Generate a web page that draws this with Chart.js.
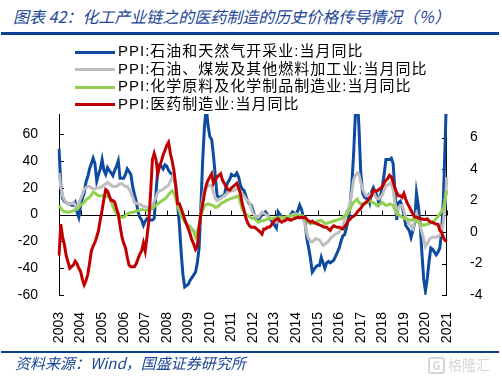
<!DOCTYPE html>
<html>
<head>
<meta charset="utf-8">
<script src="https://cdn.jsdelivr.net/npm/chart.js@4.4.0/dist/chart.umd.min.js"></script>
<style>
  body { margin: 0; background: #fff; }
  #wrap { position: relative; width: 502px; height: 379px; overflow: hidden; font-family: "Liberation Sans", "Noto Sans CJK SC", sans-serif; }
  #chart { position: absolute; left: 0; top: 0; }
  .title { position: absolute; left: 13px; top: 5px; font-size: 16px; font-style: italic; color: #1B4596; font-family: "Noto Sans CJK SC", sans-serif; white-space: nowrap; line-height: 22px; }
  .rule { position: absolute; left: 1px; width: 498px; background: #0D3F94; }
  .legend { position: absolute; left: 75px; top: 42px; font-size: 15px; color: #000; letter-spacing: 1px; }
  .legend div { height: 17.6px; line-height: 17.6px; white-space: nowrap; }
  .legend span.ln { display: inline-block; width: 40px; height: 3px; vertical-align: middle; margin-right: 3px; }
  .footer { position: absolute; left: 15px; top: 353px; font-size: 15px; font-style: italic; color: #1B4596; font-family: "Noto Sans CJK SC", sans-serif; white-space: nowrap; line-height: 20px; }
  .mark { position: absolute; left: 428px; top: 354px; font-size: 14px; color: #d6d6d6; font-family: "Noto Sans CJK SC", sans-serif; white-space: nowrap; }
  .mark b { display: inline-block; border: 2px solid #d6d6d6; border-radius: 3px; width: 13px; height: 13px; line-height: 13px; text-align: center; font-size: 11px; margin-right: 3px; }
</style>
</head>
<body>
<div id="wrap">
  <div class="title">图表 42：化工产业链之的医药制造的历史价格传导情况（％）</div>
  <div class="rule" style="top:32px;height:3px"></div>
  <canvas id="chart" width="502" height="379"></canvas>
  <div class="legend">
    <div><span class="ln" style="background:#0D4BA0"></span>PPI:石油和天然气开采业:当月同比</div>
    <div><span class="ln" style="background:#BFBFBF"></span>PPI:石油、煤炭及其他燃料加工业:当月同比</div>
    <div><span class="ln" style="background:#92D050"></span>PPI:化学原料及化学制品制造业:当月同比</div>
    <div><span class="ln" style="background:#C00000"></span>PPI:医药制造业:当月同比</div>
  </div>
  <div class="rule" style="top:351px;height:2px"></div>
  <div class="footer">资料来源：Wind，国盛证券研究所</div>
  <div class="mark"><b>G</b>格隆汇</div>
</div>
<script>
// year tick labels (one every 12 months, starting with the first point)
const yearLabels = ['2003', '2004', '2005', '2006', '2007', '2008', '2009', '2010', '2011', '2012',
  '2013', '2014', '2015', '2016', '2017', '2018', '2019', '2020', '2021'];

// monthly categories, 2003-04 .. 2021-04
const months = [];
for (let k = 0; k < 217; k++) {
  const m = 3 + k;
  months.push((2003 + Math.floor(m / 12)) + '-' + String(m % 12 + 1).padStart(2, '0'));
}

// PPI: oil & gas extraction, yoy % (left axis)
const oilGas = [
  49, 22, 12, 10, 9, 8, 8, 7, 7, 9, 2, -2,
  6, 12, 16, 24, 28, 34, 38, 42, 38, 25, 30, 34,
  41, 33, 30, 35, 33, 31, 29, 33, 36, 40, 27, 27,
  27, 30, 34, 32, 30, 21, 15, 10, 2, -2, -4, -8,
  -5, -3, -4, -4, -4, -3, 16, 34, 37, 36, 34, 37,
  36, 33, 31, 30, 28, 22, 8, -7, -28, -45, -54, -53,
  -52, -49, -47, -45, -43, -36, -25, 6, 41, 66, 80, 66,
  58, 56, 44, 29, 14, 13, 13, 14, 14, 21, 24, 26,
  30, 29, 29, 31, 28, 22, 19, 18, 14, 10, 8, 7,
  3, -1, -3, -4, -2, 0, 1, 2, 0, -2, -4, -6,
  -8, -10, 2, 0, -2, -3, -3, -2.5, -2, 0, 2, 1,
  0.5, 3, 7, 4, -2, -6, -18, -25, -33, -43, -41, -39,
  -38, -38, -32, -36, -40, -36, -35, -36, -35, -34, -31, -28,
  -25, -20, -16, -15, -10, -4, 6, 22, 45, 75, 90, 65,
  31, 16, 13, 12, 14, 9, 17, 20, 17, 14, 9, 14,
  21, 30, 41, 41, 41, 42, 38, 18, -4, 9, 10, 6,
  0, -8, -10, -12, -17, -12, -6, 16, 7, -6, -28, -48,
  -57, -48, -35, -25, -26, -28, -30, -28, -25, -13, 12, 56, 100
];

// PPI: petroleum, coal & other fuel processing, yoy % (left axis)
const petroCoal = [
  31, 20, 14, 11, 9, 8, 8, 8, 9, 7, 5, 8,
  12, 15, 19, 20, 21, 21, 20, 19, 19, 20, 20, 20,
  21, 22, 23, 24, 23, 22, 21, 21, 21, 22, 23, 23,
  22, 21, 21, 19, 16.5, 13, 9, 8.5, 8, 7.5, 7, 6,
  6, 5.4, 5, 5.5, 6, 10, 13, 16.5, 17.8, 18, 19, 20,
  21, 22, 25, 28, 31, 21.5, 12, 4.2, 0, -3, -5, -7,
  -8, -9, -10.6, -12, -14, -12, -8, 2, 12, 19, 20, 21.5,
  22, 21.5, 16.5, 12, 10.4, 11, 12, 13, 14, 15, 16.5, 17,
  17.8, 18, 18.5, 19, 19, 17, 15, 14, 12, 10, 9, 5,
  1, -0.7, -1.5, -2, 0, 1.7, 1, 0, -0.7, -2, -3, -3.2,
  -4.5, -5.7, -3, -2, -2.5, -3, -3.2, -2, -1.5, -0.7, 0, 0.3,
  0.5, 0, -0.7, -0.7, -3, -8, -14, -18, -20, -20.5, -19, -18,
  -18.5, -19, -21, -23, -22, -21, -20, -18, -16.5, -15.5, -14.5, -14,
  -13, -11, -9.4, -3, 2, 4.2, 8, 16.5, 26, 29, 31, 30,
  24, 19, 16, 14, 14, 14.8, 15.5, 16.5, 14, 12, 11.6, 13,
  14.8, 18, 21.5, 22, 22.7, 24, 18, 9, 1.7, 5, 6.7, 6.7,
  3, -2, -5, -6.9, -9, -10.6, -5, 0.5, -3, -8.1, -13, -18,
  -24, -22, -19, -17.5, -16.8, -17, -17, -16, -15.5, -12, -5.7, 10, 28
];

// PPI: chemical raw materials & products, yoy % (left axis)
const chemical = [
  6.7, 5, 3, 2, 2, 1.8, 2, 2.2, 3, 3.5, 4.2, 5.5,
  7, 8, 9, 11, 12, 13, 14.5, 16.5, 16, 15, 14, 14,
  14, 14, 13.5, 13.5, 13, 10, 6, 3, 1, -0.7, -1.5, -2,
  -2, -1, 0.5, 1, 1.5, 1.7, 2, 2.5, 3, 3.5, 3.7, 3.5,
  3.2, 3, 3, 3.5, 4.5, 6, 7, 8, 9, 10, 11, 11.6,
  13, 15, 16.5, 17.8, 16, 12, 6.7, 3, -0.7, -3, -5.7, -7,
  -8.5, -9.4, -11, -13, -16.8, -14, -9, -0.7, 3, 6.7, 7.5, 8,
  7.5, 7, 6.7, 5.4, 5.6, 6.5, 8, 9, 9.5, 10.4, 11, 11.6,
  12, 12.5, 12.8, 13.5, 14, 9, 4, 1.7, 0.5, -0.7, -1.5, -2.5,
  -3, -3.2, -4.5, -5.7, -5, -4.6, -4.4, -4, -3.5, -3.2, -3, -2.8,
  -2.6, -2.5, -2.3, -2.2, -2, -2, -1.8, -1.5, -1.3, -1, -0.8, -0.7,
  -0.7, -0.7, -0.7, -0.7, -1.5, -3, -4.4, -6, -6.9, -6.5, -6, -5.7,
  -5, -4.6, -4.4, -5.5, -6.9, -6.5, -6, -5.7, -5.2, -4.8, -4.4, -4,
  -3.5, -3.2, -2, -1, -0.7, 1.7, 4.2, 7, 9, 10.5, 11.6, 9,
  8, 8, 8, 8.5, 9.5, 10.4, 9.5, 9, 8, 6.7, 7.5, 8,
  9, 8, 6.7, 7, 8, 7.5, 6.7, 4, 1.7, 0, -1, -2,
  -2.5, -3.2, -3.5, -4, -4.4, -3.5, -3.2, -4.5, -5.7, -6.5, -7.3, -8.1,
  -7.5, -7.2, -6.9, -6, -5.2, -4.4, -3, -1.5, 0.5, 2.5, 4.2, 12, 18
];

// PPI: pharmaceutical manufacturing, yoy % (right axis)
const pharma = [
  -1.5, 0.5, -0.3, -0.8, -1.5, -1.9, -2.3, -2.2, -2.1, -1.85, -2.0, -2.3,
  -2.5, -3.0, -3.35, -3.1, -2.7, -2.0, -1.2, -0.9, -0.66, -0.3, 0.1, 0.8,
  1.4, 2.1, 2.7, 2.6, 2.3, 2.0, 2.0, 1.9, 1.5, 1.16, 0.4, -0.3,
  -0.7, -1.0, -1.6, -2.1, -2.2, -2.2, -2.2, -2.0, -1.7, -1.4, -1.2, -0.7,
  -1.2, -0.3, 0.7, 2.5, 4.6, 5.0, 4.6, 3.7, 4.2, 4.5, 4.9, 5.2,
  5.5, 5.7, 5.0, 4.5, 3.9, 2.9, 1.8, 1.8, 1.5, 1.16, 0.8, 0.5,
  0.2, -0.13, -0.5, -0.77, -1.1, -0.9, 0.3, 1.16, 1.8, 2.45, 3.0, 3.3,
  3.5, 3.7, 3.1, 3.3, 3.5, 3.6, 3.7, 3.3, 3.1, 2.9, 2.7, 2.66,
  2.8, 2.9, 3.0, 3.1, 2.8, 2.45, 1.8, 1.4, 0.9, 0.6, 0.4, 0.3,
  0.3, 0.3, 0.2, 0.1, 0, -0.13, 0.2, 0.2, 0.3, 0.3, 0.4, 0.6,
  0.73, 0.8, 0.84, 0.7, 0.63, 0.7, 0.73, 0.84, 0.8, 0.75, 0.8, 0.85,
  0.9, 0.95, 0.9, 0.95, 0.9, 0.95, 0.8, 0.7, 0.63, 0.7, 0.6, 0.55,
  0.5, 0.45, 0.4, 0.35, 0.3, 0.3, 0.2, 0.1, 0.3, 0.4, 0.35, 0.3,
  0.3, 0.25, 0.2, 0.35, 0.5, 0.73, 0.8, 0.95, 1.0, 1.1, 1.27, 1.4,
  1.5, 1.7, 1.8, 1.9, 2.0, 2.2, 2.3, 2.66, 2.6, 2.6, 2.7, 2.77,
  2.9, 3.1, 3.3, 3.4, 3.6, 3.5, 3.2, 2.8, 2.5, 2.3, 2.3, 2.2,
  2.45, 2.1, 1.8, 1.6, 1.37, 1.15, 0.95, 0.95, 0.9, 0.84, 0.84, 0.8,
  0.8, 0.84, 0.7, 0.63, 0.6, 0.55, 0.5, 0.5, 0.1, 0, -0.35, -0.55, -0.6
];

// axis lines, inward tick marks, zero line with year ticks (Excel style)
const axisDecor = {
  id: 'axisDecor',
  beforeDatasetsDraw(chart) {
    const { ctx, chartArea: a, scales } = chart;
    ctx.save();
    ctx.strokeStyle = '#000';
    ctx.lineWidth = 1;
    ctx.beginPath();
    ctx.moveTo(a.left + 0.5, a.top); ctx.lineTo(a.left + 0.5, a.bottom);
    ctx.moveTo(a.right - 0.5, a.top); ctx.lineTo(a.right - 0.5, a.bottom);
    scales.y.ticks.forEach(t => {
      const y = Math.round(scales.y.getPixelForValue(t.value)) + 0.5;
      ctx.moveTo(a.left, y); ctx.lineTo(a.left + 5, y);
    });
    scales.y1.ticks.forEach(t => {
      const y = Math.round(scales.y1.getPixelForValue(t.value)) + 0.5;
      ctx.moveTo(a.right - 5, y); ctx.lineTo(a.right, y);
    });
    const y0 = Math.round(scales.y.getPixelForValue(0)) + 0.5;
    ctx.moveTo(a.left, y0); ctx.lineTo(a.right, y0);
    for (let i = 0; i < months.length; i += 12) {
      const x = Math.round(scales.x.getPixelForValue(i)) + 0.5;
      ctx.moveTo(x, y0); ctx.lineTo(x, y0 - 5);
    }
    ctx.stroke();
    ctx.restore();
  }
};

const tickFont = { family: '"Liberation Sans", Arial, sans-serif', size: 14 };

new Chart(document.getElementById('chart'), {
  type: 'line',
  data: {
    labels: months,
    datasets: [
      { label: 'PPI:石油和天然气开采业:当月同比', data: oilGas, borderColor: '#0D4BA0', yAxisID: 'y', order: 4 },
      { label: 'PPI:石油、煤炭及其他燃料加工业:当月同比', data: petroCoal, borderColor: '#BFBFBF', yAxisID: 'y', order: 3 },
      { label: 'PPI:化学原料及化学制品制造业:当月同比', data: chemical, borderColor: '#92D050', yAxisID: 'y', order: 2 },
      { label: 'PPI:医药制造业:当月同比', data: pharma, borderColor: '#C00000', yAxisID: 'y1', order: 1 }
    ]
  },
  options: {
    responsive: false,
    animation: false,
    events: [],
    layout: { padding: { top: 114, left: 0, right: 0, bottom: 0 } },
    elements: {
      line: { borderWidth: 3, tension: 0 },
      point: { radius: 0 }
    },
    plugins: {
      legend: { display: false },
      tooltip: { enabled: false }
    },
    scales: {
      x: {
        grid: { display: false },
        border: { display: false },
        ticks: {
          autoSkip: false,
          maxRotation: 90,
          minRotation: 90,
          padding: 9,
          color: '#000',
          font: tickFont,
          callback: (value, index) => (index % 12 === 0 ? yearLabels[index / 12] : null)
        },
        afterFit: (scale) => { scale.height = 84; }
      },
      y: {
        position: 'left',
        min: -60,
        max: 75,
        grid: { display: false },
        border: { display: false },
        ticks: { stepSize: 20, padding: 13, color: '#000', font: tickFont },
        afterBuildTicks: (axis) => { axis.ticks = axis.ticks.filter(t => t.value <= 60); },
        afterFit: (scale) => { scale.width = 59; }
      },
      y1: {
        position: 'right',
        min: -4,
        max: 7.5,
        grid: { display: false },
        border: { display: false },
        ticks: { stepSize: 2, padding: 15, color: '#000', font: tickFont },
        afterBuildTicks: (axis) => { axis.ticks = axis.ticks.filter(t => t.value <= 6); },
        afterFit: (scale) => { scale.width = 55; }
      }
    }
  },
  plugins: [axisDecor]
});
</script>
</body>
</html>
